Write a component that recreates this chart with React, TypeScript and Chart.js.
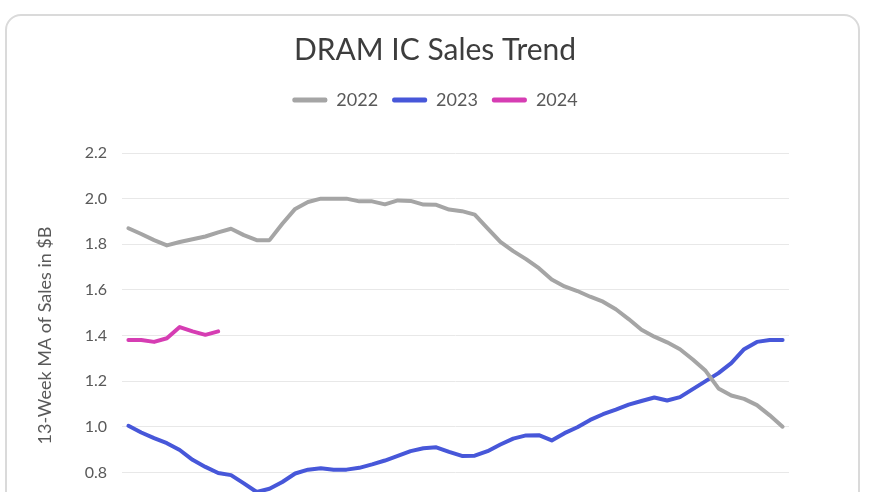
import React, { useEffect, useRef } from "react";
import { Chart, registerables } from "chart.js";

Chart.register(...registerables);

const weeks = [
  "1", "2", "3", "4", "5", "6", "7", "8", "9", "10", "11", "12", "13",
  "14", "15", "16", "17", "18", "19", "20", "21", "22", "23", "24", "25", "26",
  "27", "28", "29", "30", "31", "32", "33", "34", "35", "36", "37", "38", "39",
  "40", "41", "42", "43", "44", "45", "46", "47", "48", "49", "50", "51", "52",
];

const sales2022 = [
  1.87, 1.845, 1.818, 1.795, 1.81, 1.822, 1.834, 1.852, 1.868, 1.84, 1.818, 1.818, 1.89,
  1.955, 1.985, 2.0, 2.0, 2.0, 1.988, 1.988, 1.975, 1.992, 1.99, 1.974, 1.973, 1.952,
  1.945, 1.93, 1.87, 1.81, 1.77, 1.735, 1.695, 1.645, 1.615, 1.595, 1.57, 1.548, 1.515,
  1.472, 1.425, 1.395, 1.37, 1.34, 1.295, 1.245, 1.168, 1.137, 1.122, 1.095, 1.05, 1.0,
];

const sales2023 = [
  1.004, 0.975, 0.95, 0.928, 0.898, 0.855, 0.824, 0.797, 0.788, 0.752, 0.714, 0.728, 0.758,
  0.795, 0.812, 0.818, 0.812, 0.812, 0.82, 0.835, 0.852, 0.872, 0.893, 0.906, 0.91, 0.89,
  0.872, 0.873, 0.893, 0.922, 0.948, 0.962, 0.963, 0.94, 0.972, 0.998, 1.03, 1.055, 1.075,
  1.097, 1.113, 1.128, 1.115, 1.13, 1.165, 1.2, 1.235, 1.279, 1.34, 1.372, 1.38, 1.38,
];

const sales2024 = [1.38, 1.38, 1.372, 1.388, 1.437, 1.418, 1.403, 1.418];

const seriesNames = ["2022", "2023", "2024"];
const seriesColors = ["#a5a5a5", "#4757d9", "#d63db3"];

const chartTitle = "DRAM IC Sales Trend";
const yAxisTitle = "13-Week MA of Sales in $B";
const yMin = 0.6;
const yMax = 2.2;
const yStep = 0.2;

export default function App() {
  const canvasRef = useRef<HTMLCanvasElement | null>(null);

  useEffect(() => {
    if (!canvasRef.current) return;
    const legendSpacer = {
      id: "legendSpacer",
      beforeInit(chart: any) {
        const legend = chart.legend;
        if (!legend) return;
        const origFit = legend.fit;
        legend.fit = function () {
          origFit.call(this);
          this.height += 34;
        };
      },
    };

    const allSeries = [sales2022, sales2023, sales2024];
    const chart = new Chart(canvasRef.current, {
      type: "line",
      data: {
        labels: weeks,
        datasets: allSeries.map((d, i) => ({
          label: seriesNames[i],
          data: d,
          borderColor: seriesColors[i],
          backgroundColor: seriesColors[i],
          borderWidth: 4,
          pointRadius: 0,
          pointHoverRadius: 0,
          tension: 0,
          borderJoinStyle: "round" as const,
          borderCapStyle: "round" as const,
          fill: false,
        })),
      },
      options: {
        responsive: false,
        animation: false,
        devicePixelRatio: 1,
        layout: { padding: { left: 0, right: 0, top: 0, bottom: 0 } },
        plugins: {
          title: {
            display: true,
            text: chartTitle,
            color: "#3d3d3d",
            font: { family: "Lato", size: 30, weight: "normal", lineHeight: 1.2 },
            padding: { top: 32, bottom: 9 },
          },
          legend: {
            display: true,
            position: "top",
            labels: {
              color: "#595959",
              font: { family: "Lato", size: 18 },
              boxWidth: 35,
              boxHeight: 5,
              padding: 14,
              useBorderRadius: true,
              borderRadius: 2,
              generateLabels: (chart: any) =>
                chart.data.datasets.map((ds: any, i: number) => ({
                  text: ds.label,
                  fillStyle: ds.borderColor,
                  strokeStyle: ds.borderColor,
                  lineWidth: 0,
                  hidden: false,
                  datasetIndex: i,
                  fontColor: "#595959",
                  borderRadius: 2,
                })),
            },
          },
          tooltip: { enabled: false },
        },
        scales: {
          x: {
            offset: true,
            grid: { display: false, drawTicks: false },
            border: { display: true, color: "#d9d9d9" },
            ticks: { display: true, color: "#595959", font: { family: "Lato", size: 14 } },
            afterFit: (s: any) => {
              s.height = 40;
            },
          },
          y: {
            min: yMin,
            max: yMax,
            position: "left",
            grid: { color: "#e8e8e8", lineWidth: 1, drawTicks: false },
            border: { display: false },
            ticks: {
              stepSize: yStep,
              padding: 15,
              color: "#595959",
              font: { family: "Lato", size: 16 },
              callback: (v: any) => Number(v).toFixed(1),
            },
            title: {
              display: true,
              text: yAxisTitle,
              color: "#595959",
              font: { family: "Lato", size: 18 },
              padding: { top: 34, bottom: 0 },
            },
            afterFit: (s: any) => {
              s.width = 122;
            },
          },
          yRight: {
            position: "right",
            display: true,
            grid: { display: false, drawTicks: false },
            border: { display: false },
            ticks: { display: false },
            afterFit: (s: any) => {
              s.width = 81;
            },
          },
        },
      },
      plugins: [legendSpacer],
    } as any);
    return () => chart.destroy();
  }, []);

  return (
    <div
      style={{
        position: "fixed",
        left: 0,
        top: 0,
        width: 870,
        height: 492,
        overflow: "hidden",
        background: "#ffffff",
      }}
    >
      <div
        style={{
          position: "absolute",
          left: 5,
          top: 14,
          width: 851,
          height: 600,
          border: "2px solid #dadada",
          borderRadius: 16,
          background: "#ffffff",
        }}
      />
      <canvas
        ref={canvasRef}
        width={870}
        height={558}
        style={{ position: "absolute", left: 0, top: 0, width: 870, height: 558, display: "block" }}
      />
    </div>
  );
}
